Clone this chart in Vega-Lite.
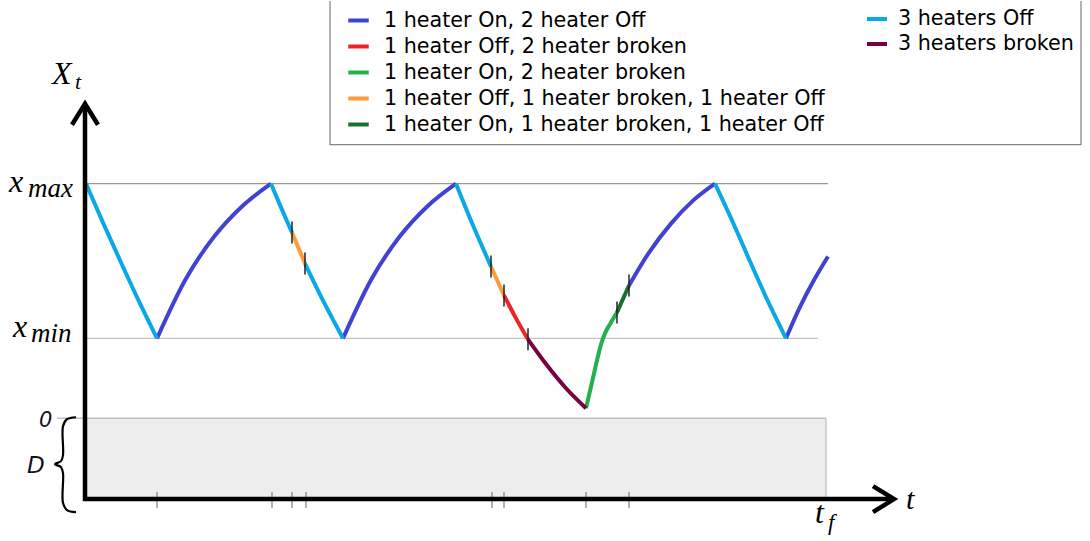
{
  "$schema": "https://vega.github.io/schema/vega-lite/v6.json",
  "width": 1090,
  "height": 541,
  "autosize": {"type": "fit", "contains": "padding"},
  "padding": 0,
  "background": "white",
  "config": {"view": {"stroke": null}},
  "data": {"values": [{}]},
  "datasets": {
    "segments": [
      {"seg": "s1", "state": "3 heaters Off", "t": 1, "X": 235},
      {"seg": "s1", "state": "3 heaters Off", "t": 18, "X": 196},
      {"seg": "s1", "state": "3 heaters Off", "t": 36, "X": 156},
      {"seg": "s1", "state": "3 heaters Off", "t": 54, "X": 117},
      {"seg": "s1", "state": "3 heaters Off", "t": 72, "X": 80},
      {"seg": "s2", "state": "1 heater On,  2 heater Off", "t": 72, "X": 80},
      {"seg": "s2", "state": "1 heater On,  2 heater Off", "t": 100.5, "X": 139},
      {"seg": "s2", "state": "1 heater On,  2 heater Off", "t": 129, "X": 181.8},
      {"seg": "s2", "state": "1 heater On,  2 heater Off", "t": 157.5, "X": 212.7},
      {"seg": "s2", "state": "1 heater On,  2 heater Off", "t": 186, "X": 235},
      {"seg": "s3a", "state": "3 heaters Off", "t": 186, "X": 235},
      {"seg": "s3a", "state": "3 heaters Off", "t": 196.5, "X": 210},
      {"seg": "s3a", "state": "3 heaters Off", "t": 207, "X": 186},
      {"seg": "s3b", "state": "1 heater Off, 1 heater broken, 1 heater Off", "t": 207, "X": 186},
      {"seg": "s3b", "state": "1 heater Off, 1 heater broken, 1 heater Off", "t": 220, "X": 155},
      {"seg": "s3c", "state": "3 heaters Off", "t": 220, "X": 155},
      {"seg": "s3c", "state": "3 heaters Off", "t": 239, "X": 116},
      {"seg": "s3c", "state": "3 heaters Off", "t": 258, "X": 80},
      {"seg": "s4", "state": "1 heater On,  2 heater Off", "t": 258, "X": 80},
      {"seg": "s4", "state": "1 heater On,  2 heater Off", "t": 286.25, "X": 139},
      {"seg": "s4", "state": "1 heater On,  2 heater Off", "t": 314.5, "X": 181.8},
      {"seg": "s4", "state": "1 heater On,  2 heater Off", "t": 342.75, "X": 212.7},
      {"seg": "s4", "state": "1 heater On,  2 heater Off", "t": 371, "X": 235},
      {"seg": "s5a", "state": "3 heaters Off", "t": 371, "X": 235},
      {"seg": "s5a", "state": "3 heaters Off", "t": 388.5, "X": 192},
      {"seg": "s5a", "state": "3 heaters Off", "t": 406, "X": 152},
      {"seg": "s5b", "state": "1 heater Off, 1 heater broken, 1 heater Off", "t": 406, "X": 152},
      {"seg": "s5b", "state": "1 heater Off, 1 heater broken, 1 heater Off", "t": 419, "X": 123},
      {"seg": "s5c", "state": "1 heater Off, 2 heater broken", "t": 419, "X": 123},
      {"seg": "s5c", "state": "1 heater Off, 2 heater broken", "t": 431, "X": 100},
      {"seg": "s5c", "state": "1 heater Off, 2 heater broken", "t": 443, "X": 79},
      {"seg": "s5d", "state": "3 heaters broken", "t": 443, "X": 79},
      {"seg": "s5d", "state": "3 heaters broken", "t": 462, "X": 53},
      {"seg": "s5d", "state": "3 heaters broken", "t": 481, "X": 30},
      {"seg": "s5d", "state": "3 heaters broken", "t": 501, "X": 10},
      {"seg": "s5e", "state": "1 heater On,  2 heater broken", "t": 501, "X": 10},
      {"seg": "s5e", "state": "1 heater On,  2 heater broken", "t": 507, "X": 36},
      {"seg": "s5e", "state": "1 heater On,  2 heater broken", "t": 512, "X": 58},
      {"seg": "s5e", "state": "1 heater On,  2 heater broken", "t": 516, "X": 74},
      {"seg": "s5e", "state": "1 heater On,  2 heater broken", "t": 520, "X": 85},
      {"seg": "s5e", "state": "1 heater On,  2 heater broken", "t": 526, "X": 96},
      {"seg": "s5e", "state": "1 heater On,  2 heater broken", "t": 532, "X": 106},
      {"seg": "s5f", "state": "1 heater On,  1 heater broken, 1 heater Off", "t": 532, "X": 106},
      {"seg": "s5f", "state": "1 heater On,  1 heater broken, 1 heater Off", "t": 544, "X": 133},
      {"seg": "s5g", "state": "1 heater On,  2 heater Off", "t": 544, "X": 133},
      {"seg": "s5g", "state": "1 heater On,  2 heater Off", "t": 564, "X": 166},
      {"seg": "s5g", "state": "1 heater On,  2 heater Off", "t": 586, "X": 195},
      {"seg": "s5g", "state": "1 heater On,  2 heater Off", "t": 608, "X": 218},
      {"seg": "s5g", "state": "1 heater On,  2 heater Off", "t": 630, "X": 235},
      {"seg": "s6", "state": "3 heaters Off", "t": 630, "X": 235},
      {"seg": "s6", "state": "3 heaters Off", "t": 648, "X": 196},
      {"seg": "s6", "state": "3 heaters Off", "t": 665.5, "X": 156},
      {"seg": "s6", "state": "3 heaters Off", "t": 683, "X": 117},
      {"seg": "s6", "state": "3 heaters Off", "t": 701, "X": 80},
      {"seg": "s7", "state": "1 heater On,  2 heater Off", "t": 701, "X": 80},
      {"seg": "s7", "state": "1 heater On,  2 heater Off", "t": 715, "X": 111.5},
      {"seg": "s7", "state": "1 heater On,  2 heater Off", "t": 729, "X": 138.4},
      {"seg": "s7", "state": "1 heater On,  2 heater Off", "t": 743, "X": 162}
    ],
    "events": [
      {"t": 207, "X": 186},
      {"t": 220, "X": 155},
      {"t": 406, "X": 152},
      {"t": 419, "X": 123},
      {"t": 443, "X": 79},
      {"t": 532, "X": 106},
      {"t": 544, "X": 133}
    ],
    "axisTicks": [
      {"t": 72}, {"t": 187}, {"t": 207}, {"t": 221}, {"t": 407}, {"t": 419}, {"t": 501}, {"t": 544}
    ],
    "brace": [
      {"i": 0, "t": -9, "X": 1},
      {"i": 1, "t": -18, "X": -1},
      {"i": 2, "t": -22, "X": -8},
      {"i": 3, "t": -22, "X": -37},
      {"i": 4, "t": -24, "X": -43},
      {"i": 5, "t": -30, "X": -46},
      {"i": 6, "t": -24, "X": -49},
      {"i": 7, "t": -22, "X": -55},
      {"i": 8, "t": -22, "X": -85},
      {"i": 9, "t": -18, "X": -92},
      {"i": 10, "t": -9, "X": -94}
    ],
    "arrows": [
      {"arrow": "y", "i": 0, "t": -13, "X": 294},
      {"arrow": "y", "i": 1, "t": 0, "X": 315},
      {"arrow": "y", "i": 2, "t": 13, "X": 294},
      {"arrow": "x", "i": 0, "t": 788, "X": -68},
      {"arrow": "x", "i": 1, "t": 809, "X": -81},
      {"arrow": "x", "i": 2, "t": 788, "X": -94}
    ]
  },
  "resolve": {"scale": {"color": "independent"}, "legend": {"color": "independent"}},
  "layer": [
    {
      "mark": {"type": "rect", "fill": "#ededed", "stroke": null},
      "encoding": {
        "x": {"datum": 0, "type": "quantitative", "scale": {"domain": [-85, 1005], "nice": false, "zero": false}, "axis": null},
        "x2": {"datum": 741},
        "y": {"datum": 0, "type": "quantitative", "scale": {"domain": [-123, 418], "nice": false, "zero": false}, "axis": null},
        "y2": {"datum": -80}
      }
    },
    {
      "mark": {"type": "rule", "stroke": "#b0b0b0", "strokeWidth": 1},
      "encoding": {
        "x": {"datum": 741, "type": "quantitative", "scale": {"domain": [-85, 1005], "nice": false, "zero": false}, "axis": null},
        "y": {"datum": 0, "type": "quantitative", "scale": {"domain": [-123, 418], "nice": false, "zero": false}, "axis": null},
        "y2": {"datum": -80}
      }
    },
    {
      "mark": {"type": "rule", "stroke": "#999999", "strokeWidth": 1.2},
      "encoding": {
        "x": {"datum": 0, "type": "quantitative", "scale": {"domain": [-85, 1005], "nice": false, "zero": false}, "axis": null},
        "x2": {"datum": 743},
        "y": {"datum": 235, "type": "quantitative", "scale": {"domain": [-123, 418], "nice": false, "zero": false}, "axis": null}
      }
    },
    {
      "mark": {"type": "rule", "stroke": "#c4c4c4", "strokeWidth": 1.4},
      "encoding": {
        "x": {"datum": 0, "type": "quantitative", "scale": {"domain": [-85, 1005], "nice": false, "zero": false}, "axis": null},
        "x2": {"datum": 733},
        "y": {"datum": 80, "type": "quantitative", "scale": {"domain": [-123, 418], "nice": false, "zero": false}, "axis": null}
      }
    },
    {
      "mark": {"type": "rule", "stroke": "#c0c0c0", "strokeWidth": 1.6},
      "encoding": {
        "x": {"datum": -28, "type": "quantitative", "scale": {"domain": [-85, 1005], "nice": false, "zero": false}, "axis": null},
        "x2": {"datum": 741},
        "y": {"datum": 0, "type": "quantitative", "scale": {"domain": [-123, 418], "nice": false, "zero": false}, "axis": null}
      }
    },
    {
      "mark": {"type": "rule", "stroke": "#666666", "strokeWidth": 1},
      "encoding": {
        "x": {"datum": 245, "type": "quantitative", "scale": {"domain": [-85, 1005], "nice": false, "zero": false}, "axis": null},
        "y": {"datum": 418, "type": "quantitative", "scale": {"domain": [-123, 418], "nice": false, "zero": false}, "axis": null},
        "y2": {"datum": 274}
      }
    },
    {
      "mark": {"type": "rule", "stroke": "#666666", "strokeWidth": 1},
      "encoding": {
        "x": {"datum": 996, "type": "quantitative", "scale": {"domain": [-85, 1005], "nice": false, "zero": false}, "axis": null},
        "y": {"datum": 418, "type": "quantitative", "scale": {"domain": [-123, 418], "nice": false, "zero": false}, "axis": null},
        "y2": {"datum": 274}
      }
    },
    {
      "mark": {"type": "rule", "stroke": "#666666", "strokeWidth": 1},
      "encoding": {
        "x": {"datum": 245, "type": "quantitative", "scale": {"domain": [-85, 1005], "nice": false, "zero": false}, "axis": null},
        "x2": {"datum": 996},
        "y": {"datum": 274, "type": "quantitative", "scale": {"domain": [-123, 418], "nice": false, "zero": false}, "axis": null}
      }
    },
    {
      "data": {"name": "segments"},
      "transform": [{"filter": {"field": "state", "oneOf": ["1 heater On,  2 heater Off", "1 heater Off, 2 heater broken", "1 heater On,  2 heater broken", "1 heater Off, 1 heater broken, 1 heater Off", "1 heater On,  1 heater broken, 1 heater Off"]}}],
      "mark": {"type": "line", "strokeWidth": 4, "interpolate": "monotone"},
      "encoding": {
        "x": {"field": "t", "type": "quantitative", "scale": {"domain": [-85, 1005], "nice": false, "zero": false}, "axis": null},
        "y": {"field": "X", "type": "quantitative", "scale": {"domain": [-123, 418], "nice": false, "zero": false}, "axis": null},
        "detail": {"field": "seg"},
        "color": {
          "field": "state", "type": "nominal",
          "scale": {
            "domain": ["1 heater On,  2 heater Off", "1 heater Off, 2 heater broken", "1 heater On,  2 heater broken", "1 heater Off, 1 heater broken, 1 heater Off", "1 heater On,  1 heater broken, 1 heater Off"],
            "range": ["#4242d2", "#ee2229", "#22b14c", "#ff9a3c", "#17702f"]
          },
          "legend": {"title": null, "orient": "none", "legendX": 346, "legendY": 7, "padding": 0, "symbolType": "stroke", "symbolSize": 420, "symbolStrokeWidth": 4, "labelFont": "DejaVu Sans", "labelFontSize": 20.7, "labelColor": "black", "labelLimit": 700, "labelOffset": 13, "rowPadding": 3}
        }
      }
    },
    {
      "data": {"name": "segments"},
      "transform": [{"filter": {"field": "state", "oneOf": ["3 heaters Off", "3 heaters broken"]}}],
      "mark": {"type": "line", "strokeWidth": 4, "interpolate": "monotone"},
      "encoding": {
        "x": {"field": "t", "type": "quantitative", "scale": {"domain": [-85, 1005], "nice": false, "zero": false}, "axis": null},
        "y": {"field": "X", "type": "quantitative", "scale": {"domain": [-123, 418], "nice": false, "zero": false}, "axis": null},
        "detail": {"field": "seg"},
        "color": {
          "field": "state", "type": "nominal",
          "scale": {"domain": ["3 heaters Off", "3 heaters broken"], "range": ["#0aa9e6", "#7b0041"]},
          "legend": {"title": null, "orient": "none", "legendX": 865, "legendY": 6, "padding": 0, "symbolType": "stroke", "symbolSize": 400, "symbolStrokeWidth": 4, "labelFont": "DejaVu Sans", "labelFontSize": 20.7, "labelColor": "black", "labelLimit": 700, "labelOffset": 9, "rowPadding": 3}
        }
      }
    },
    {
      "data": {"name": "events"},
      "mark": {"type": "tick", "orient": "vertical", "size": 22, "thickness": 1.5, "color": "#222222", "opacity": 1},
      "encoding": {
        "x": {"field": "t", "type": "quantitative", "scale": {"domain": [-85, 1005], "nice": false, "zero": false}, "axis": null},
        "y": {"field": "X", "type": "quantitative", "scale": {"domain": [-123, 418], "nice": false, "zero": false}, "axis": null}
      }
    },
    {
      "data": {"name": "axisTicks"},
      "mark": {"type": "tick", "orient": "vertical", "size": 16, "thickness": 1.3, "color": "#888888", "opacity": 1},
      "encoding": {
        "x": {"field": "t", "type": "quantitative", "scale": {"domain": [-85, 1005], "nice": false, "zero": false}, "axis": null},
        "y": {"datum": -82, "type": "quantitative", "scale": {"domain": [-123, 418], "nice": false, "zero": false}, "axis": null}
      }
    },
    {
      "mark": {"type": "rule", "stroke": "black", "strokeWidth": 4.5},
      "encoding": {
        "x": {"datum": 0, "type": "quantitative", "scale": {"domain": [-85, 1005], "nice": false, "zero": false}, "axis": null},
        "y": {"datum": -83, "type": "quantitative", "scale": {"domain": [-123, 418], "nice": false, "zero": false}, "axis": null},
        "y2": {"datum": 313}
      }
    },
    {
      "mark": {"type": "rule", "stroke": "black", "strokeWidth": 4.5},
      "encoding": {
        "x": {"datum": -2, "type": "quantitative", "scale": {"domain": [-85, 1005], "nice": false, "zero": false}, "axis": null},
        "x2": {"datum": 806},
        "y": {"datum": -81, "type": "quantitative", "scale": {"domain": [-123, 418], "nice": false, "zero": false}, "axis": null}
      }
    },
    {
      "data": {"name": "arrows"},
      "mark": {"type": "line", "stroke": "black", "strokeWidth": 4.5, "strokeJoin": "miter", "strokeCap": "butt"},
      "encoding": {
        "x": {"field": "t", "type": "quantitative", "scale": {"domain": [-85, 1005], "nice": false, "zero": false}, "axis": null},
        "y": {"field": "X", "type": "quantitative", "scale": {"domain": [-123, 418], "nice": false, "zero": false}, "axis": null},
        "detail": {"field": "arrow"},
        "order": {"field": "i"}
      }
    },
    {
      "data": {"name": "brace"},
      "mark": {"type": "line", "stroke": "black", "strokeWidth": 2.2, "interpolate": "catmull-rom"},
      "encoding": {
        "x": {"field": "t", "type": "quantitative", "scale": {"domain": [-85, 1005], "nice": false, "zero": false}, "axis": null},
        "y": {"field": "X", "type": "quantitative", "scale": {"domain": [-123, 418], "nice": false, "zero": false}, "axis": null},
        "order": {"field": "i"}
      }
    },
    {
      "mark": {"type": "text", "text": "X", "font": "Liberation Serif", "fontStyle": "italic", "fontSize": 32, "align": "left", "baseline": "alphabetic", "color": "black"},
      "encoding": {
        "x": {"datum": -33, "type": "quantitative", "scale": {"domain": [-85, 1005], "nice": false, "zero": false}, "axis": null},
        "y": {"datum": 335, "type": "quantitative", "scale": {"domain": [-123, 418], "nice": false, "zero": false}, "axis": null}
      }
    },
    {
      "mark": {"type": "text", "text": "t", "font": "Liberation Serif", "fontStyle": "italic", "fontSize": 22, "align": "left", "baseline": "alphabetic", "color": "black"},
      "encoding": {
        "x": {"datum": -10, "type": "quantitative", "scale": {"domain": [-85, 1005], "nice": false, "zero": false}, "axis": null},
        "y": {"datum": 330, "type": "quantitative", "scale": {"domain": [-123, 418], "nice": false, "zero": false}, "axis": null}
      }
    },
    {
      "mark": {"type": "text", "text": "x", "font": "Liberation Serif", "fontStyle": "italic", "fontSize": 32, "align": "left", "baseline": "alphabetic", "color": "black"},
      "encoding": {
        "x": {"datum": -76, "type": "quantitative", "scale": {"domain": [-85, 1005], "nice": false, "zero": false}, "axis": null},
        "y": {"datum": 227, "type": "quantitative", "scale": {"domain": [-123, 418], "nice": false, "zero": false}, "axis": null}
      }
    },
    {
      "mark": {"type": "text", "text": "max", "font": "Liberation Serif", "fontStyle": "italic", "fontSize": 27, "align": "left", "baseline": "alphabetic", "color": "black"},
      "encoding": {
        "x": {"datum": -57, "type": "quantitative", "scale": {"domain": [-85, 1005], "nice": false, "zero": false}, "axis": null},
        "y": {"datum": 222, "type": "quantitative", "scale": {"domain": [-123, 418], "nice": false, "zero": false}, "axis": null}
      }
    },
    {
      "mark": {"type": "text", "text": "x", "font": "Liberation Serif", "fontStyle": "italic", "fontSize": 32, "align": "left", "baseline": "alphabetic", "color": "black"},
      "encoding": {
        "x": {"datum": -72, "type": "quantitative", "scale": {"domain": [-85, 1005], "nice": false, "zero": false}, "axis": null},
        "y": {"datum": 81, "type": "quantitative", "scale": {"domain": [-123, 418], "nice": false, "zero": false}, "axis": null}
      }
    },
    {
      "mark": {"type": "text", "text": "min", "font": "Liberation Serif", "fontStyle": "italic", "fontSize": 27, "align": "left", "baseline": "alphabetic", "color": "black"},
      "encoding": {
        "x": {"datum": -54, "type": "quantitative", "scale": {"domain": [-85, 1005], "nice": false, "zero": false}, "axis": null},
        "y": {"datum": 76, "type": "quantitative", "scale": {"domain": [-123, 418], "nice": false, "zero": false}, "axis": null}
      }
    },
    {
      "mark": {"type": "text", "text": "0", "font": "DejaVu Sans", "fontStyle": "italic", "fontSize": 21, "align": "left", "baseline": "alphabetic", "color": "#111122"},
      "encoding": {
        "x": {"datum": -46, "type": "quantitative", "scale": {"domain": [-85, 1005], "nice": false, "zero": false}, "axis": null},
        "y": {"datum": -9, "type": "quantitative", "scale": {"domain": [-123, 418], "nice": false, "zero": false}, "axis": null}
      }
    },
    {
      "mark": {"type": "text", "text": "D", "font": "DejaVu Sans", "fontStyle": "italic", "fontSize": 23, "align": "left", "baseline": "alphabetic", "color": "#111122"},
      "encoding": {
        "x": {"datum": -58, "type": "quantitative", "scale": {"domain": [-85, 1005], "nice": false, "zero": false}, "axis": null},
        "y": {"datum": -55, "type": "quantitative", "scale": {"domain": [-123, 418], "nice": false, "zero": false}, "axis": null}
      }
    },
    {
      "mark": {"type": "text", "text": "t", "font": "Liberation Serif", "fontStyle": "italic", "fontSize": 30, "align": "left", "baseline": "alphabetic", "color": "black"},
      "encoding": {
        "x": {"datum": 821, "type": "quantitative", "scale": {"domain": [-85, 1005], "nice": false, "zero": false}, "axis": null},
        "y": {"datum": -91, "type": "quantitative", "scale": {"domain": [-123, 418], "nice": false, "zero": false}, "axis": null}
      }
    },
    {
      "mark": {"type": "text", "text": "t", "font": "Liberation Serif", "fontStyle": "italic", "fontSize": 32, "align": "left", "baseline": "alphabetic", "color": "black"},
      "encoding": {
        "x": {"datum": 730, "type": "quantitative", "scale": {"domain": [-85, 1005], "nice": false, "zero": false}, "axis": null},
        "y": {"datum": -105, "type": "quantitative", "scale": {"domain": [-123, 418], "nice": false, "zero": false}, "axis": null}
      }
    },
    {
      "mark": {"type": "text", "text": "f", "font": "Liberation Serif", "fontStyle": "italic", "fontSize": 23, "align": "left", "baseline": "alphabetic", "color": "black"},
      "encoding": {
        "x": {"datum": 743, "type": "quantitative", "scale": {"domain": [-85, 1005], "nice": false, "zero": false}, "axis": null},
        "y": {"datum": -112, "type": "quantitative", "scale": {"domain": [-123, 418], "nice": false, "zero": false}, "axis": null}
      }
    }
  ]
}
